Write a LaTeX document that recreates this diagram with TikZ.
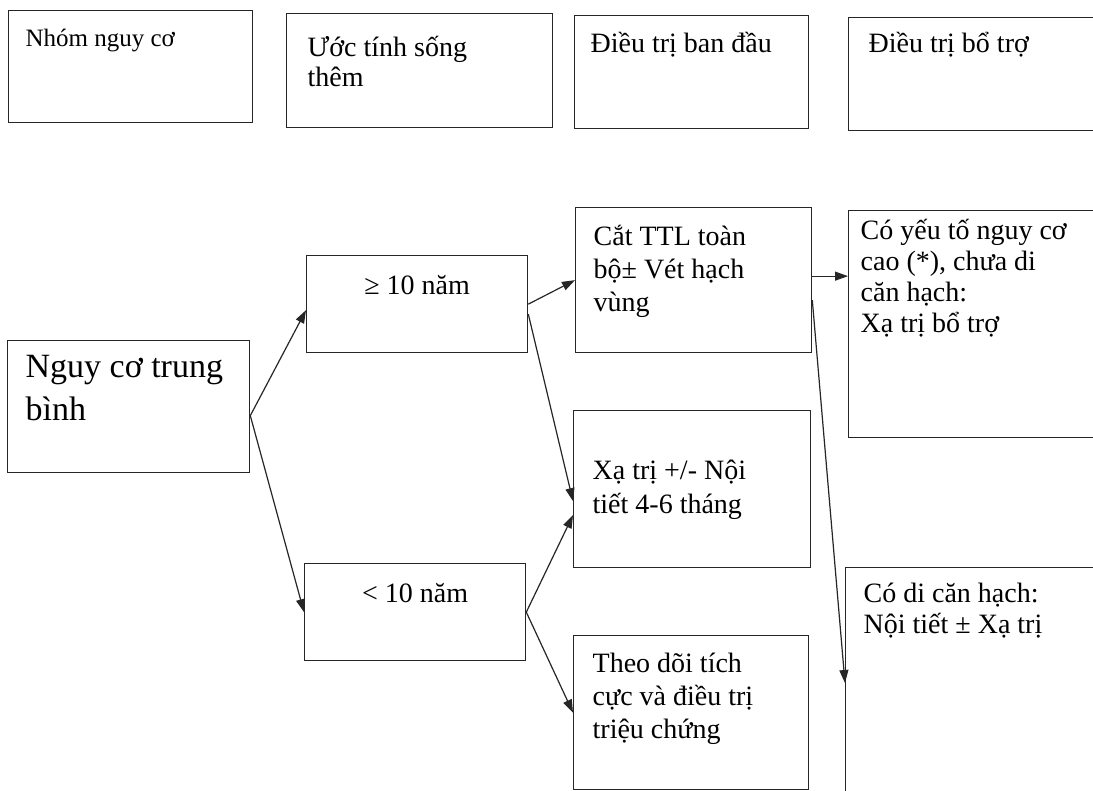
\documentclass[tikz,border=0pt]{standalone}
\usepackage{fontspec}
\setmainfont{Liberation Serif}
\usetikzlibrary{calc}
\usetikzlibrary{arrows.meta}
\tikzstyle{cellbox} = [draw=black!85, line width=1.3pt, rectangle, inner sep=0pt, anchor=north west]
\tikzstyle{link} = [draw=black!85, line width=1.2pt, -{Triangle[length=13pt,width=9pt]}]
\newcommand\celltext[5]{\parbox[c][#2][t]{#1}{\fontsize{#3}{#4}\selectfont\strut #5}}

\begin{document}
\begin{tikzpicture}[x=1pt, y=-1pt]
\path[use as bounding box, fill=white] (0,0) rectangle (1093,791);
\clip (0,0) rectangle (1093,791);

\node[cellbox, minimum width=244pt, minimum height=112pt] (head_risk) at (8,10) {\celltext{210pt}{79pt}{25}{28}{Nhóm nguy cơ}};
\node[cellbox, minimum width=266pt, minimum height=114pt] (head_life) at (286,13) {\celltext{224pt}{70pt}{28}{30}{Ước tính sống\\thêm}};
\node[cellbox, minimum width=234pt, minimum height=113pt] (head_init) at (574,15) {\celltext{202pt}{81pt}{28}{30}{Điều trị ban đầu}};
\node[cellbox, minimum width=262pt, minimum height=113pt] (head_adj) at (848,17) {\celltext{222pt}{85pt}{28}{30}{Điều trị bổ trợ}};

\node[cellbox, minimum width=242pt, minimum height=132pt] (risk_mid) at (7,340) {\celltext{206pt}{118pt}{34}{43}{Nguy cơ trung\\bình}};

\node[cellbox, minimum width=221pt, minimum height=97pt] (life_ge) at (306,255) {\celltext{190pt}{65pt}{28}{33}{\centering ≥ 10 năm}};
\node[cellbox, minimum width=221pt, minimum height=97pt] (life_lt) at (304,563) {\celltext{190pt}{65pt}{28}{33}{\centering < 10 năm}};

\node[cellbox, minimum width=236pt, minimum height=145pt] (tx_surg) at (575,207) {\celltext{200pt}{115pt}{28}{33}{Cắt TTL toàn\\bộ± Vét hạch\\vùng}};
\node[cellbox, minimum width=237pt, minimum height=157pt] (tx_rt) at (573,410) {\celltext{199pt}{67pt}{28}{34}{Xạ trị +/- Nội\\tiết 4-6 tháng}};
\node[cellbox, minimum width=235pt, minimum height=154pt] (tx_watch) at (573,635) {\celltext{197pt}{126pt}{28}{33}{Theo dõi tích\\cực và điều trị\\triệu chứng}};

\node[cellbox, minimum width=262pt, minimum height=227pt] (adj_rt) at (848,210) {\celltext{238pt}{213pt}{28}{31}{Có yếu tố nguy cơ\\cao (*), chưa di\\căn hạch:\\Xạ trị bổ trợ}};
\node[cellbox, minimum width=265pt, minimum height=243pt] (adj_horm) at (845,567) {\celltext{229pt}{217pt}{28}{31}{Có di căn hạch:\\Nội tiết ± Xạ trị}};

\draw[link] ([yshift=-9pt]risk_mid.east) -- ([yshift=-6pt]life_ge.west);
\draw[link] ([yshift=-9pt]risk_mid.east) -- (life_lt.west);
\draw[link] (life_ge.east) -- (tx_surg.west);
\draw[link] ([yshift=-10pt]life_ge.east) -- ([yshift=-12pt]tx_rt.west);
\draw[link] (life_lt.east) -- ([yshift=-26pt]tx_rt.west);
\draw[link] (life_lt.east) -- (tx_watch.west);
\draw[link] ([yshift=4pt]tx_surg.east) -- ([yshift=4pt]tx_surg.east -| adj_rt.west);
\draw[link] ([yshift=-20pt]tx_surg.east) -- ([yshift=-116pt]adj_horm.north west);
\end{tikzpicture}
\end{document}
